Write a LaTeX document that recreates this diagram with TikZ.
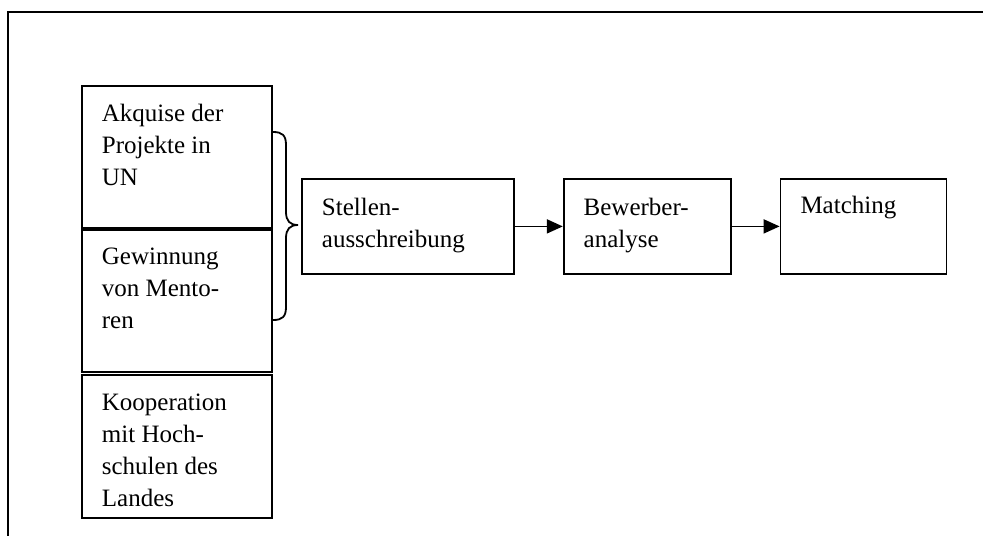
\documentclass[tikz,border=0pt]{standalone}
\usepackage{fontspec}
\setmainfont{Liberation Serif}
\usetikzlibrary{positioning,arrows.meta}

\begin{document}
\begin{tikzpicture}[x=0.5pt,y=-0.5pt,>={Triangle[length=8pt,width=7pt]},line width=0.9pt,
  stepbox/.style={draw,anchor=north west,inner sep=0pt,minimum width=95pt,minimum height=71pt},
  steptext/.style={anchor=north west,inner sep=0pt,align=left,font=\fontsize{12.5}{16}\selectfont}]
    \useasboundingbox (0,0) rectangle (983,536);
    % outer frame
    \draw[line width=1pt] (983,12) -- (8,12) -- (8,536);

    % left column
    \node[stepbox] (akquise) at (81,85) {};
    \node[stepbox] (gewinnung) [below=0.3pt of akquise.south west,anchor=north west] {};
    \node[stepbox,minimum height=71.5pt] (kooperation) [below=0.3pt of gewinnung.south west,anchor=north west] {};

    % process chain
    \node[stepbox,minimum width=106pt,minimum height=47.5pt] (stellen) at (301,178) {};
    \node[stepbox,minimum width=83.5pt,minimum height=47.5pt,anchor=west] (bewerber) [right=24pt of stellen] {};
    \node[stepbox,minimum width=83pt,minimum height=47.5pt,anchor=west] (matching) [right=24pt of bewerber] {};

    % texts
    \node[steptext] (akquisetext) at ([shift={(20,13.6)}]akquise.north west) {\strut Akquise der\\Projekte in\\UN};
    \node[steptext] (gewinnungtext) at ([shift={(20,11.6)}]gewinnung.north west) {\strut Gewinnung\\von Mento-\\ren};
    \node[steptext] (kooperationtext) at ([shift={(20,13.6)}]kooperation.north west) {\strut Kooperation\\mit Hoch-\\schulen des\\Landes};
    \node[steptext] (stellentext) at ([shift={(20,14.6)}]stellen.north west) {\strut Stellen-\\ausschreibung};
    \node[steptext] (bewerbertext) at ([shift={(20,14.6)}]bewerber.north west) {\strut Bewerber-\\analyse};
    \node[steptext] (matchingtext) at ([shift={(20,12.6)}]matching.north west) {\strut Matching};

    % brace
    \draw (273,132) .. controls (282,132) and (286,135) .. (286,145) -- (286,212)
          .. controls (286,221) and (290,225) .. (298,225)
          .. controls (290,225) and (286,229) .. (286,238) -- (286,307)
          .. controls (286,317) and (282,320) .. (273,320);

    \draw[->] (stellen) -- (bewerber);
    \draw[->] (bewerber) -- (matching);
\end{tikzpicture}
\end{document}
